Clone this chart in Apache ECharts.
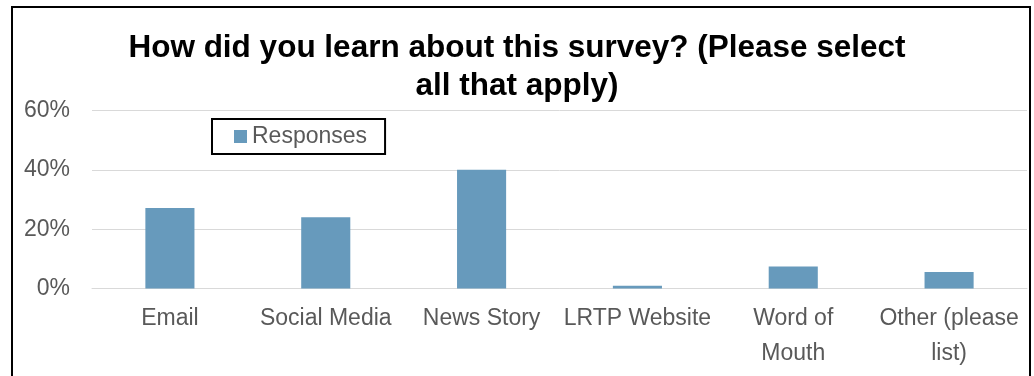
<!DOCTYPE html>
<html>
<head>
<meta charset="utf-8">
<script src="https://cdn.jsdelivr.net/npm/echarts@6/dist/echarts.min.js"></script>
<style>
  html, body { margin: 0; padding: 0; background: #fff; }
  #chart { width: 1034px; height: 376px; }
</style>
</head>
<body>
<div id="chart"></div>
<script>
// Survey question: how respondents heard about the survey (share of responses, %)
const titleText = 'How did you learn about this survey? (Please select\nall that apply)';
const seriesName = 'Responses';
const categories = ['Email', 'Social Media', 'News Story', 'LRTP Website', 'Word of Mouth', 'Other (please list)'];
// axis text for each category, wrapped the way the axis shows it
const categoryLabels = ['Email', 'Social Media', 'News Story', 'LRTP Website', 'Word of\nMouth', 'Other (please\nlist)'];
const responses = [27.1, 24.0, 40.0, 0.9, 7.4, 5.6];
const yTicks = [0, 20, 40, 60];

const FONT = '"Liberation Sans", Arial, sans-serif';
const LABEL_GREY = '#595959';
const BAR_BLUE = '#679ABC';

const chart = echarts.init(document.getElementById('chart'), null, { renderer: 'canvas' });

chart.setOption({
  backgroundColor: '#ffffff',
  animation: false,
  textStyle: { fontFamily: FONT },
  title: {
    text: titleText,
    left: 'center',
    top: 24,
    textStyle: {
      fontFamily: FONT,
      fontSize: 31.5,
      fontWeight: 'bold',
      color: '#000000',
      lineHeight: 38
    }
  },
  legend: {
    data: [seriesName],
    left: 212,
    top: 119,
    orient: 'horizontal',
    padding: [6, 18, 6, 22],
    borderColor: '#000000',
    borderWidth: 2,
    itemWidth: 13,
    itemHeight: 13,
    icon: 'rect',
    textStyle: { fontFamily: FONT, fontSize: 23, color: LABEL_GREY }
  },
  grid: {
    left: 92,
    right: 7,
    top: 110.5,
    bottom: 87.5,
    containLabel: false
  },
  xAxis: {
    type: 'category',
    data: categories,
    axisLine: { show: true, lineStyle: { color: '#d9d9d9', width: 1 } },
    axisTick: { show: false },
    axisLabel: {
      interval: 0,
      margin: 13,
      fontFamily: FONT,
      fontSize: 23,
      color: LABEL_GREY,
      lineHeight: 35,
      formatter: (value, index) => categoryLabels[index]
    }
  },
  yAxis: {
    type: 'value',
    min: yTicks[0],
    max: yTicks[yTicks.length - 1],
    interval: yTicks[1] - yTicks[0],
    axisLine: { show: false },
    axisTick: { show: false },
    splitLine: { show: true, lineStyle: { color: '#d9d9d9', width: 1 } },
    axisLabel: {
      margin: 22,
      fontFamily: FONT,
      fontSize: 23,
      color: LABEL_GREY,
      padding: [3, 0, 0, 0],
      formatter: '{value}%'
    }
  },
  series: [{
    name: seriesName,
    type: 'bar',
    data: responses,
    barWidth: '31.5%',
    itemStyle: { color: BAR_BLUE }
  }],
  graphic: [{
    // outer chart frame
    type: 'rect',
    silent: true,
    z: 100,
    shape: { x: 12, y: 7, width: 1018, height: 420 },
    style: { fill: 'none', stroke: '#000000', lineWidth: 2 }
  }]
});
</script>
</body>
</html>
